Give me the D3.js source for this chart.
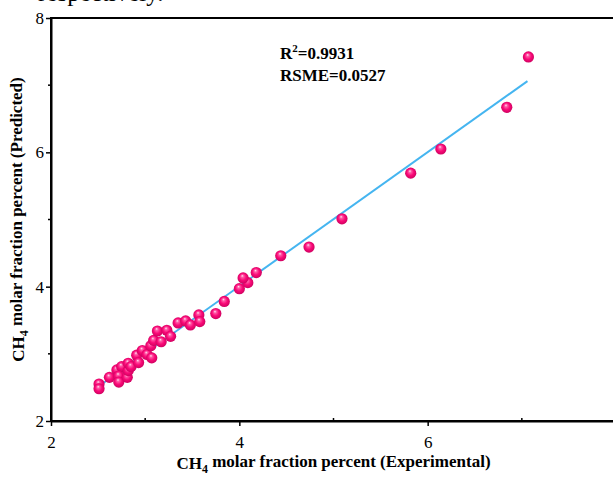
<!DOCTYPE html>
<html>
<head>
<meta charset="utf-8">
<script src="https://cdn.jsdelivr.net/npm/d3@7"></script>
<style>
  html, body { margin: 0; padding: 0; background: #fff; }
  svg { display: block; }
  text { font-family: "Liberation Serif", "Times New Roman", serif; fill: #000; }
</style>
</head>
<body>
<svg id="chart" width="613" height="479"></svg>
<script>
// ---- data ----
const experimental = [2.51, 2.51, 2.62, 2.70, 2.75, 2.72, 2.72, 2.81, 2.82, 2.82, 2.85, 2.91, 2.93, 2.97, 3.02, 3.07, 3.06, 3.09, 3.13, 3.17, 3.23, 3.27, 3.35, 3.43, 3.48, 3.57, 3.58, 3.75, 3.84, 4.00, 4.09, 4.04, 4.18, 4.44, 4.74, 5.09, 5.82, 6.14, 6.84, 7.07];
const predicted    = [2.55, 2.48, 2.65, 2.76, 2.81, 2.67, 2.58, 2.65, 2.75, 2.86, 2.81, 2.98, 2.87, 3.05, 2.99, 2.94, 3.12, 3.20, 3.34, 3.18, 3.35, 3.26, 3.46, 3.49, 3.43, 3.58, 3.48, 3.60, 3.78, 3.97, 4.06, 4.13, 4.21, 4.46, 4.59, 5.01, 5.69, 6.05, 6.67, 7.42];
const fitX = [2.50, 7.06];
const fitY = [2.51, 7.06];
const xTicks = [2, 4, 6];
const yTicks = [2, 4, 6, 8];
const minorTicks = [3, 5, 7];
const xLabel = "CH|4| molar fraction percent (Experimental)";
const yLabel = "CH|4| molar fraction percent (Predicted)";
const r2Text = "0.9931";
const rmseText = "0.0527";

// ---- chart ----
const svg = d3.select("#chart");
svg.append("rect").attr("width", 613).attr("height", 479).attr("fill", "#fff");

const x = d3.scaleLinear().domain([2, 8]).range([51, 616]);
const y = d3.scaleLinear().domain([2, 8]).range([421, 18]);

// gradient for spheres
const defs = svg.append("defs");
const grad = defs.append("radialGradient").attr("id", "ball")
  .attr("cx", "0.5").attr("cy", "0.5").attr("r", "0.55")
  .attr("fx", "0.42").attr("fy", "0.3");
grad.append("stop").attr("offset", "0%").attr("stop-color", "#FFE6F2");
grad.append("stop").attr("offset", "22%").attr("stop-color", "#FF59A6");
grad.append("stop").attr("offset", "55%").attr("stop-color", "#FA0A78");
grad.append("stop").attr("offset", "100%").attr("stop-color", "#C8005C");

// cut-off text at top (continuation of page text above the figure)
svg.append("text").attr("x", 38).attr("y", 0.5)
  .attr("font-size", 25).text("respectively.");

// fit line
svg.append("line")
  .attr("x1", x(fitX[0])).attr("y1", y(fitY[0]))
  .attr("x2", x(fitX[1])).attr("y2", y(fitY[1]))
  .attr("stroke", "#45B5F0").attr("stroke-width", 2);

// points
const pts = experimental.map((v, i) => ({ ex: v, pr: predicted[i] }));
svg.append("g").selectAll("circle").data(pts).join("circle")
  .attr("cx", d => x(d.ex)).attr("cy", d => y(d.pr))
  .attr("r", 5.6).attr("fill", "url(#ball)");

// axes
const xAxis = d3.axisBottom(x).tickValues(xTicks).tickFormat(d3.format("d")).tickSize(5).tickSizeOuter(0);
const yAxis = d3.axisLeft(y).tickValues(yTicks).tickFormat(d3.format("d")).tickSize(5).tickSizeOuter(0);

const gx = svg.append("g").attr("transform", `translate(0,${y(2)})`).call(xAxis);
const gy = svg.append("g").attr("transform", `translate(${x(2)},0)`).call(yAxis);
[gx, gy].forEach(g => {
  g.select(".domain").attr("stroke", "#000").attr("stroke-width", 2);
  g.selectAll(".tick line").attr("stroke", "#000").attr("stroke-width", 1.5);
  g.selectAll(".tick text").attr("font-family", "Liberation Serif, Times New Roman, serif")
    .attr("font-size", 17).attr("fill", "#000");
});
gx.selectAll(".tick text").attr("y", 0).attr("dy", "1.6em");
gy.selectAll(".tick text").attr("x", -7);

// extend axis lines to meet at corner
svg.append("line").attr("x1", x(2) - 1).attr("x2", 613).attr("y1", y(2)).attr("y2", y(2))
  .attr("stroke", "#000").attr("stroke-width", 2);
svg.append("line").attr("x1", x(2)).attr("x2", x(2)).attr("y1", y(8) - 1).attr("y2", y(2) + 1)
  .attr("stroke", "#000").attr("stroke-width", 2);
// top frame line
svg.append("line").attr("x1", x(2) - 1).attr("x2", 613).attr("y1", y(8)).attr("y2", y(8))
  .attr("stroke", "#000").attr("stroke-width", 2);

// minor ticks
svg.append("g").selectAll("line").data(minorTicks).join("line")
  .attr("x1", d => x(d)).attr("x2", d => x(d))
  .attr("y1", y(2)).attr("y2", y(2) - 3)
  .attr("stroke", "#000").attr("stroke-width", 1.5);
svg.append("g").selectAll("line").data(minorTicks).join("line")
  .attr("x1", x(2)).attr("x2", x(2) - 3)
  .attr("y1", d => y(d)).attr("y2", d => y(d))
  .attr("stroke", "#000").attr("stroke-width", 1.5);

// axis titles with subscript
function subText(sel, label) {
  const parts = label.split("|");
  sel.append("tspan").text(parts[0]);
  sel.append("tspan").attr("font-size", "0.7em").attr("dy", "0.3em").text(parts[1]);
  sel.append("tspan").attr("dy", "-0.3em").text(parts[2]);
}
const xt = svg.append("text")
  .attr("x", (x(2) + x(8)) / 2).attr("y", 469)
  .attr("text-anchor", "middle").attr("font-size", 17).attr("font-weight", "bold");
subText(xt, xLabel);

const yt = svg.append("text")
  .attr("transform", `translate(24,${(y(2) + y(8)) / 2}) rotate(-90)`)
  .attr("text-anchor", "middle").attr("font-size", 17).attr("font-weight", "bold");
subText(yt, yLabel);

// annotation
const a1 = svg.append("text").attr("x", 280).attr("y", 59)
  .attr("font-size", 17).attr("font-weight", "bold");
a1.append("tspan").text("R");
a1.append("tspan").attr("font-size", "0.65em").attr("dy", "-0.6em").text("2");
a1.append("tspan").attr("dy", "0.39em").text("=" + r2Text);

svg.append("text").attr("x", 280).attr("y", 80.5)
  .attr("font-size", 17).attr("font-weight", "bold")
  .text("RSME=" + rmseText);
</script>
</body>
</html>
